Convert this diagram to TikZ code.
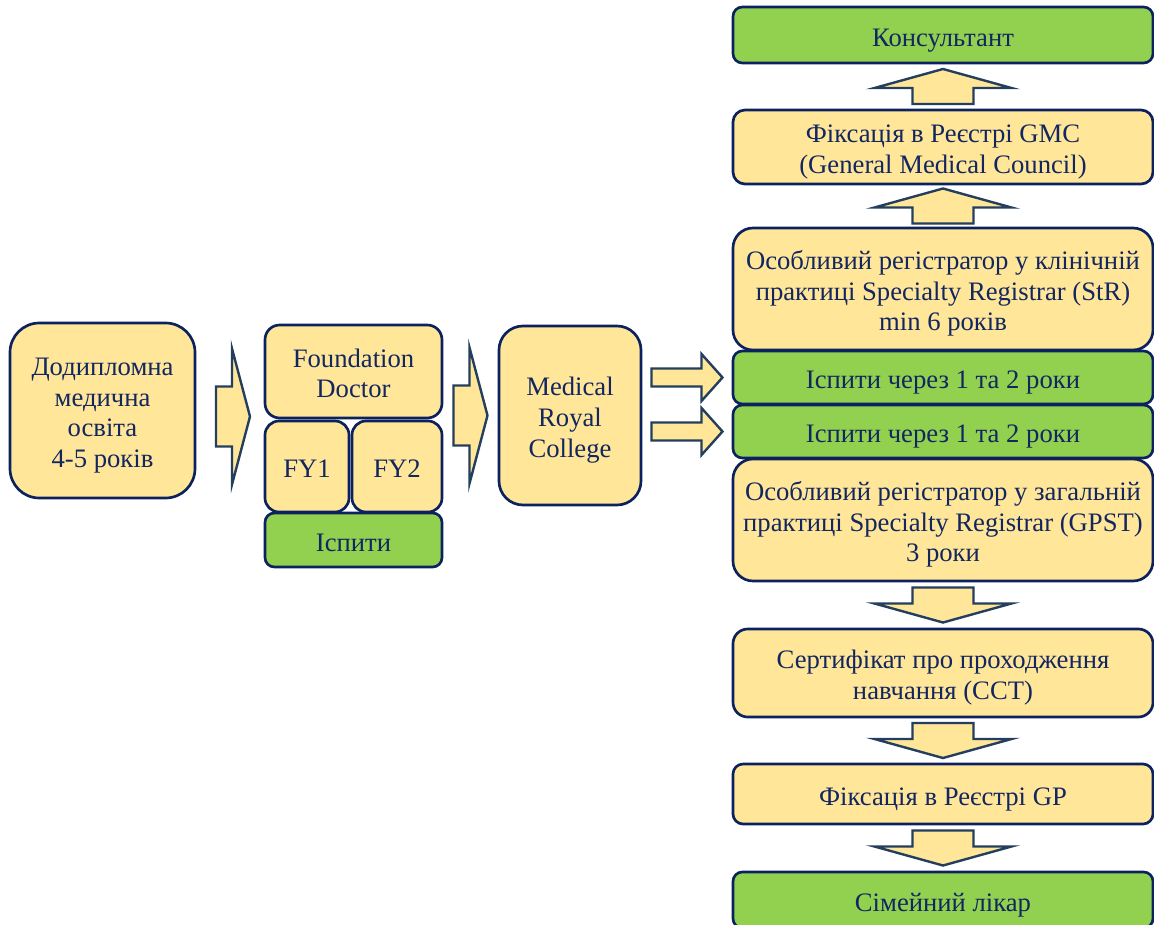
\documentclass[tikz,border=0pt]{standalone}
\usepackage{fontspec}
\setmainfont{Liberation Serif}
\usetikzlibrary{calc}
% strilka: tochka, kut, pivdovzhyna, dovzhyna holovky, pivshyryna, pivshyryna holovky
\newcommand{\strilka}[6]{%
    \draw[blok, shift={(#1)}, rotate=#2] (-#3,-#5) -- (#3-#4,-#5) -- (#3-#4,-#6) -- (#3,0)
        -- (#3-#4,#6) -- (#3-#4,#5) -- (-#3,#5) -- cycle;}
\newcommand{\ps}{\rule{0pt}{21.5pt}}% pidporka pershoho ryadka

\begin{document}
\begin{tikzpicture}[x=0.75pt, y=-0.75pt]
            \definecolor{zhovtyj}{RGB}{255,230,153}
            \definecolor{zelenyj}{RGB}{146,208,80}
            \definecolor{kontur}{RGB}{12,34,94}
            \definecolor{tekst}{RGB}{18,38,96}
            \definecolor{strk}{RGB}{36,62,94}

            \tikzstyle{kl}   = [draw=kontur, line width=2pt, fill=zhovtyj, text=tekst, align=center,
                                inner sep=0pt, font=\fontsize{20}{23}\selectfont,
                                execute at begin node={\ps},
                                execute at end node={\rule[-5pt]{0pt}{5pt}}]
            \tikzstyle{isp}  = [kl, fill=zelenyj]
            \tikzstyle{blok} = [draw=strk, line width=1.8pt, fill=zhovtyj, line join=miter]

            \useasboundingbox (0,0) rectangle (1154,925);
            \clip (0,0) rectangle (1154,925);

            % Ліва частина
            \node[kl, minimum width=138.75pt, minimum height=131.25pt, rounded corners=22pt] (osvita)
                at (102.5,410.5) {\ps Додипломна\\медична\\освіта\\4-5 років};
            \node[kl, minimum width=132.75pt, minimum height=69.75pt, rounded corners=11pt] (fd)
                at (353.5,371.5) {\ps Foundation\\Doctor};
            \node[kl, minimum width=63pt, minimum height=68.25pt, rounded corners=10.5pt] (fy1)
                at (307,466.5) {FY1};
            \node[kl, minimum width=67.5pt, minimum height=68.25pt, rounded corners=10.5pt] (fy2)
                at (397,466.5) {FY2};
            \node[isp, minimum width=132.75pt, minimum height=40.5pt, rounded corners=7pt] (ispyty)
                at (353.5,540) {Іспити};
            \node[kl, minimum width=106.5pt, minimum height=134.25pt, rounded corners=18pt] (college)
                at (570,415.5) {\ps Medical\\Royal\\College};

            % Права колонка
            \tikzstyle{kol} = [minimum width=315pt]
            \node[isp, kol, minimum height=42pt, rounded corners=7pt] (kons) at (943,35) {Консультант};
            \node[kl, kol, minimum height=55.5pt, rounded corners=9pt] (gmc) at (943,147)
                {\ps Фіксація в Реєстрі GMC\\(General Medical Council)};
            \node[kl, kol, minimum height=91.5pt, rounded corners=15pt] (str) at (943,289)
                {\ps Особливий регістратор у клінічній\\практиці Specialty Registrar (StR)\\min 6 років};
            \node[isp, kol, minimum height=39.75pt, rounded corners=7pt] (isp1) at (943,377.5)
                {Іспити через 1 та 2 роки};
            \node[isp, kol, minimum height=39.75pt, rounded corners=7pt] (isp2) at (943,431.5)
                {Іспити через 1 та 2 роки};
            \node[kl, kol, minimum height=91.5pt, rounded corners=15pt] (gpst) at (943,520)
                {\ps Особливий регістратор у загальній\\практиці Specialty Registrar (GPST)\\3 роки};
            \node[kl, kol, minimum height=66pt, rounded corners=11pt] (cct) at (943,673)
                {\ps Сертифікат про проходження\\навчання (CCT)};
            \node[kl, kol, minimum height=45pt, rounded corners=7.5pt] (gp) at (943,794)
                {Фіксація в Реєстрі GP};
            \node[isp, kol, minimum height=42pt, rounded corners=7pt] (simlikar) at (943,900)
                {Сімейний лікар};

            % Стрілки
            \coordinate (h1) at ($(osvita.east)!.5!(fd.west |- osvita.east)+(3,6)$);
            \coordinate (h2) at ($(fd.east |- college.west)!.5!(college.west)$);
            \strilka{h1}{0}{17}{18}{30}{68}
            \strilka{h2}{0}{17}{18}{30}{68}
            \foreach \i in {isp1,isp2} {
                \coordinate (r\i) at ($(college.east |- \i.west)!.5!(\i.west)$);
                \strilka{r\i}{0}{35.5}{21}{9}{23.5}
            }
            \foreach \jos/\sus/\kut in {gmc/kons/90, str/gmc/90, cct/gpst/-90, gp/cct/-90, simlikar/gp/-90} {
                \coordinate (v\jos) at ($(\jos.north)!.5!(\sus.south)$);
                \strilka{v\jos}{\kut}{17.5}{19}{30.5}{68.5}
            }
\end{tikzpicture}
\end{document}
